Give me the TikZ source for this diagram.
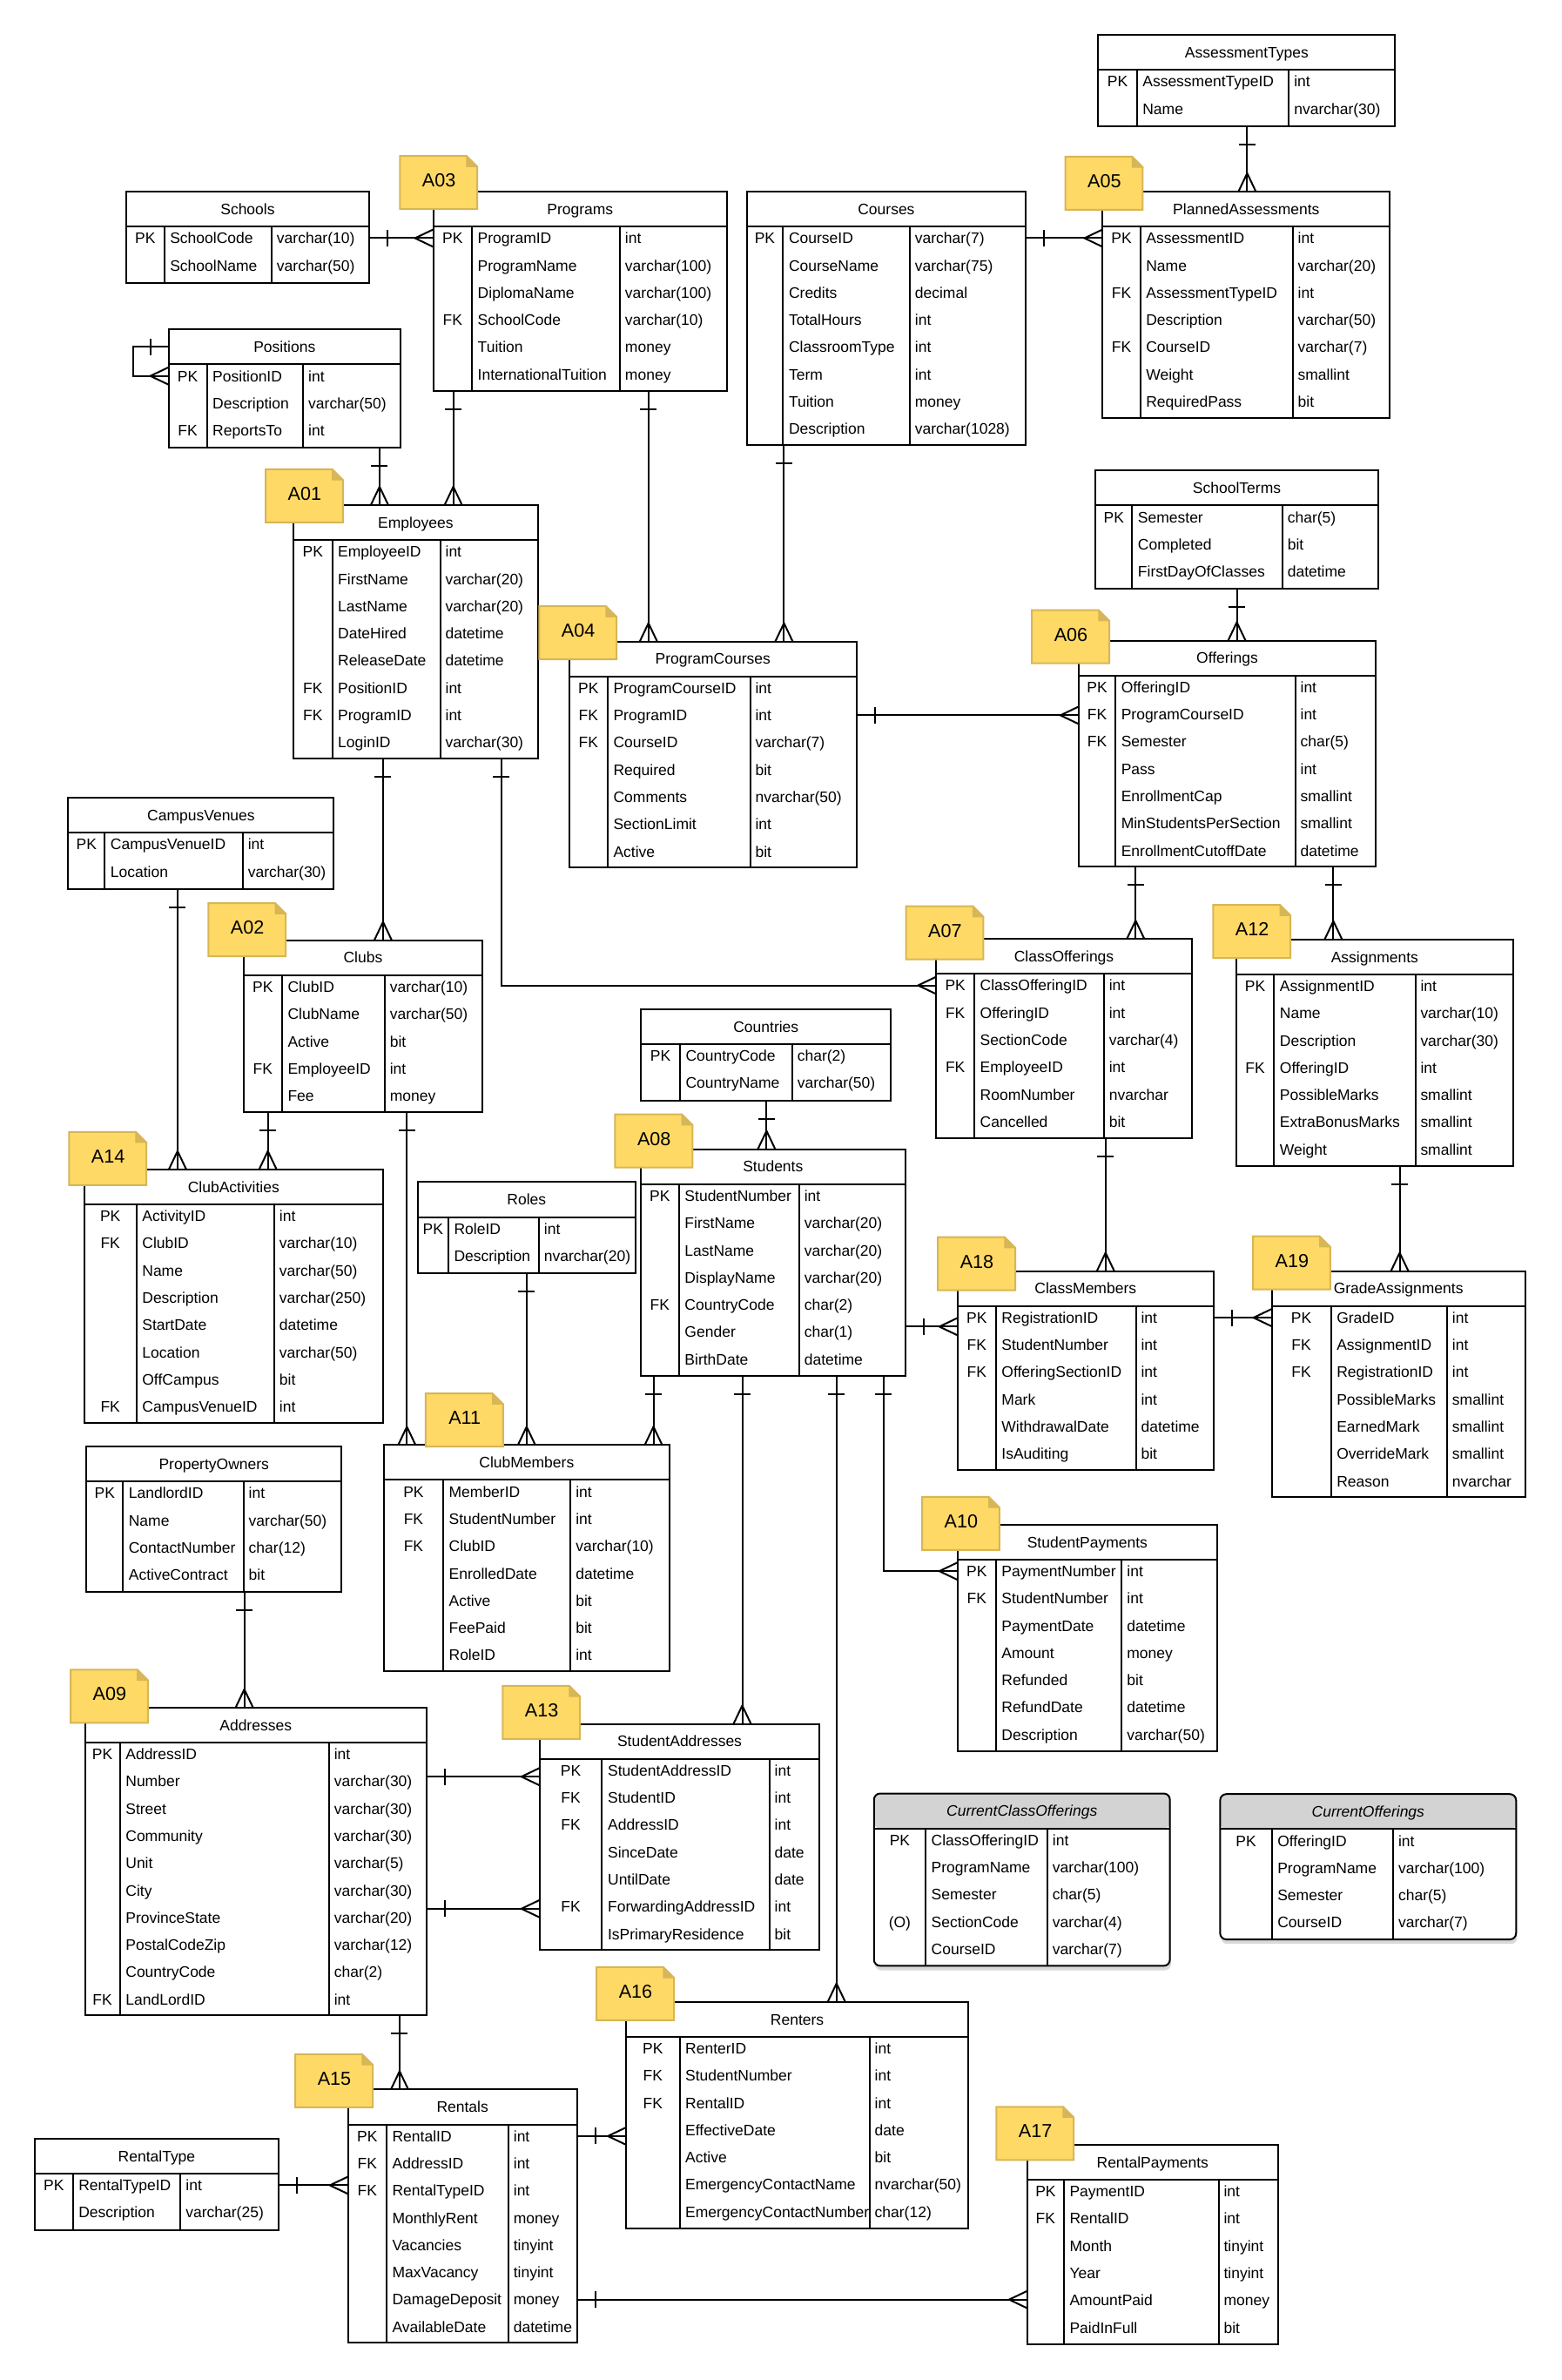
\documentclass[tikz,border=0pt]{standalone}
\usepackage{fontspec}
\setmainfont{Liberation Sans}
\usetikzlibrary{arrows.meta, fit, shadows}

\newcommand{\tablefont}{\fontsize{8.75}{10.5}\selectfont}
\newcommand{\viewopt}{(O)}

\definecolor{notefill}{HTML}{FFD966}
\definecolor{noteline}{HTML}{D6B656}
\definecolor{viewgray}{HTML}{D3D3D3}

% crow's foot ends
\pgfdeclarearrow{
  name = Crow,
  parameters = {\the\pgfarrowlength,\the\pgfarrowwidth},
  setup code = {
    \pgfarrowssettipend{0pt}
    \pgfarrowssetlineend{0pt}
    \pgfarrowssetbackend{-\pgfarrowlength}
    \pgfarrowssetvisualbackend{-\pgfarrowlength}
    \pgfarrowshullpoint{0pt}{0.5\pgfarrowwidth}
    \pgfarrowshullpoint{0pt}{-0.5\pgfarrowwidth}
    \pgfarrowshullpoint{-\pgfarrowlength}{0pt}
    \pgfarrowssavethe\pgfarrowlength
    \pgfarrowssavethe\pgfarrowwidth
  },
  drawing code = {
    \pgfsetdash{}{0pt}
    \pgfpathmoveto{\pgfqpoint{0pt}{0.5\pgfarrowwidth}}
    \pgfpathlineto{\pgfqpoint{-\pgfarrowlength}{0pt}}
    \pgfpathlineto{\pgfqpoint{0pt}{-0.5\pgfarrowwidth}}
    \pgfusepathqstroke
  },
  defaults = {length = 10.5pt, width = 10pt}
}
\pgfdeclarearrow{
  name = OneBar,
  parameters = {\the\pgfarrowlength,\the\pgfarrowwidth},
  setup code = {
    \pgfarrowssettipend{0pt}
    \pgfarrowssetlineend{0pt}
    \pgfarrowssetbackend{-\pgfarrowlength}
    \pgfarrowssetvisualbackend{-\pgfarrowlength}
    \pgfarrowshullpoint{-\pgfarrowlength}{0.5\pgfarrowwidth}
    \pgfarrowshullpoint{-\pgfarrowlength}{-0.5\pgfarrowwidth}
    \pgfarrowssavethe\pgfarrowlength
    \pgfarrowssavethe\pgfarrowwidth
  },
  drawing code = {
    \pgfsetdash{}{0pt}
    \pgfpathmoveto{\pgfqpoint{-\pgfarrowlength}{0.5\pgfarrowwidth}}
    \pgfpathlineto{\pgfqpoint{-\pgfarrowlength}{-0.5\pgfarrowwidth}}
    \pgfusepathqstroke
  },
  defaults = {length = 10.5pt, width = 9.5pt}
}

\tikzstyle{tableline} = [line width=1pt]
\tikzstyle{plain frame} = [rectangle, fill=white, inner sep=0pt, outer sep=0pt]
\tikzstyle{view frame} = [rectangle, fill=white, inner sep=0pt, outer sep=0pt, rounded corners=3.5pt, drop shadow={shadow xshift=0.6pt, shadow yshift=-2.6pt, opacity=0.3}]
\tikzstyle{plain head} = []
\tikzstyle{view head} = [fill=viewgray, rounded corners=3.5pt]
\tikzstyle{plain outline} = [tableline]
\tikzstyle{view outline} = [tableline, rounded corners=3.5pt]
\tikzstyle{keytext} = [inner sep=0pt, font=\tablefont, text height=6.3pt, text depth=0pt]
\tikzstyle{fieldtext} = [keytext, anchor=west]
\tikzstyle{plain title} = [keytext]
\tikzstyle{view title} = [keytext, font=\tablefont\itshape]
\tikzstyle{notebody} = [fill=notefill, draw=noteline, line width=1pt]
\tikzstyle{notefold} = [fill=noteline, draw=noteline, line width=0.5pt]
\tikzstyle{notelabel} = [inner sep=0pt, font=\fontsize{10.8}{13}\selectfont, text height=7.7pt, text depth=0pt]
\tikzstyle{rel} = [line width=1pt, arrows={OneBar-Crow}]

% [look]{name}{left}{top}{right}{key line}{type line}{title}{key/field/type rows}
\newcommand{\ertable}[9][plain]{%
  \foreach \k/\f/\t [count=\i] in {#9} {\xdef\ercount{\i}}
  \pgfmathsetmacro\erbottom{#4+24.5+17.8*\ercount}
  \coordinate (#2-nw) at (#3,#4);
  \coordinate (#2-se) at (#5,\erbottom);
  \node[#1 frame, fit=(#2-nw)(#2-se)] (#2) {};
  \path[#1 head] (#3,#4+23) -- (#3,#4) -- (#5,#4) -- (#5,#4+23) -- cycle;
  \draw[#1 outline] (#2-nw) rectangle (#2-se);
  \draw[tableline] (#3,#4+23) -- (#5,#4+23) (#6,#4+23) -- (#6,\erbottom) (#7,#4+23) -- (#7,\erbottom);
  \node[#1 title] (#2-title) at ({(#3+#5)/2},#4+11.5) {#8};
  \foreach \k/\f/\t [count=\i] in {#9} {
    \node[keytext] (#2-k\i) at ({(#3+#6)/2},{#4+30.7+17.95*(\i-1)}) {\k};
    \node[fieldtext] (#2-f\i) at (#6+3.6,{#4+30.7+17.95*(\i-1)}) {\f};
    \node[fieldtext] (#2-t\i) at (#7+3.2,{#4+30.7+17.95*(\i-1)}) {\t};
  }
}

% {name}{left}{top}{label}
\newcommand{\notetag}[4]{%
  \filldraw[notebody] (#2,#3) -- ({#2+44},#3) -- ({#2+51},{#3+7}) -- ({#2+51},{#3+35}) -- (#2,{#3+35}) -- cycle;
  \filldraw[notefold] ({#2+44},#3) -- ({#2+44},{#3+7}) -- ({#2+51},{#3+7}) -- cycle;
  \node[notelabel] (#1) at ({#2+25.7},{#3+16}) {#4};
}

\begin{document}
\begin{tikzpicture}[x=0.8717pt, y=-0.8717pt]
    \useasboundingbox (0,0) rectangle (1029,1568);

    %tables
    \ertable{atypes}{723.7}{22.9}{919.3}{749.1}{849.3}{AssessmentTypes}{PK/AssessmentTypeID/int, /Name/nvarchar(30)}
    \ertable{passess}{726.6}{126.2}{915.8}{751.4}{851.8}{PlannedAssessments}{PK/AssessmentID/int, /Name/varchar(20), FK/AssessmentTypeID/int, /Description/varchar(50), FK/CourseID/varchar(7), /Weight/smallint, /RequiredPass/bit}
    \ertable{schools}{83.2}{126.2}{243.2}{108.2}{179}{Schools}{PK/SchoolCode/varchar(10), /SchoolName/varchar(50)}
    \ertable{programs}{285.5}{126.2}{479}{311}{408.5}{Programs}{PK/ProgramID/int, /ProgramName/varchar(100), /DiplomaName/varchar(100), FK/SchoolCode/varchar(10), /Tuition/money, /InternationalTuition/money}
    \ertable{positions}{111.1}{217}{263.9}{136.3}{199.8}{Positions}{PK/PositionID/int, /Description/varchar(50), FK/ReportsTo/int}
    \ertable{courses}{492}{126.2}{676}{516}{599.5}{Courses}{PK/CourseID/varchar(7), /CourseName/varchar(75), /Credits/decimal, /TotalHours/int, /ClassroomType/int, /Term/int, /Tuition/money, /Description/varchar(1028)}
    \ertable{employees}{193.5}{332.7}{354.3}{218.9}{290.1}{Employees}{PK/EmployeeID/int, /FirstName/varchar(20), /LastName/varchar(20), /DateHired/datetime, /ReleaseDate/datetime, FK/PositionID/int, FK/ProgramID/int, /LoginID/varchar(30)}
    \ertable{schoolterms}{722}{310}{908}{746}{845}{SchoolTerms}{PK/Semester/char(5), /Completed/bit, /FirstDayOfClasses/datetime}
    \ertable{offerings}{710.8}{422}{906.5}{735}{853.5}{Offerings}{PK/OfferingID/int, FK/ProgramCourseID/int, FK/Semester/char(5), /Pass/int, /EnrollmentCap/smallint, /MinStudentsPerSection/smallint, /EnrollmentCutoffDate/datetime}
    \ertable{progcourses}{375.1}{422.6}{564.4}{400.4}{494.3}{ProgramCourses}{PK/ProgramCourseID/int, FK/ProgramID/int, FK/CourseID/varchar(7), /Required/bit, /Comments/nvarchar(50), /SectionLimit/int, /Active/bit}
    \ertable{campusvenues}{45}{525.5}{220}{69}{160}{CampusVenues}{PK/CampusVenueID/int, /Location/varchar(30)}
    \ertable{clubs}{160.6}{619.4}{317.8}{185.8}{253.5}{Clubs}{PK/ClubID/varchar(10), /ClubName/varchar(50), /Active/bit, FK/EmployeeID/int, /Fee/money}
    \ertable{clubacts}{55.5}{770.4}{252.4}{89.9}{180.7}{ClubActivities}{PK/ActivityID/int, FK/ClubID/varchar(10), /Name/varchar(50), /Description/varchar(250), /StartDate/datetime, /Location/varchar(50), /OffCampus/bit, FK/CampusVenueID/int}
    \ertable{countries}{422.5}{664.8}{587}{448}{522}{Countries}{PK/CountryCode/char(2), /CountryName/varchar(50)}
    \ertable{classoff}{617}{618.5}{785.2}{642}{727.4}{ClassOfferings}{PK/ClassOfferingID/int, FK/OfferingID/int, /SectionCode/varchar(4), FK/EmployeeID/int, /RoomNumber/nvarchar, /Cancelled/bit}
    \ertable{assignments}{814.7}{618.9}{997}{839.5}{932.6}{Assignments}{PK/AssignmentID/int, /Name/varchar(10), /Description/varchar(30), FK/OfferingID/int, /PossibleMarks/smallint, /ExtraBonusMarks/smallint, /Weight/smallint}
    \ertable{roles}{275.3}{778.8}{418.7}{295.4}{355.1}{Roles}{PK/RoleID/int, /Description/nvarchar(20)}
    \ertable{students}{422.2}{757.1}{596.5}{447.4}{526.6}{Students}{PK/StudentNumber/int, /FirstName/varchar(20), /LastName/varchar(20), /DisplayName/varchar(20), FK/CountryCode/char(2), /Gender/char(1), /BirthDate/datetime}
    \ertable{classmembers}{631}{837.4}{799.6}{656.2}{748.5}{ClassMembers}{PK/RegistrationID/int, FK/StudentNumber/int, FK/OfferingSectionID/int, /Mark/int, /WithdrawalDate/datetime, /IsAuditing/bit}
    \ertable{gradeassign}{838}{837.4}{1005}{877}{953.5}{GradeAssignments}{PK/GradeID/int, FK/AssignmentID/int, FK/RegistrationID/int, /PossibleMarks/smallint, /EarnedMark/smallint, /OverrideMark/smallint, /Reason/nvarchar}
    \ertable{propowners}{57}{953}{225}{81}{160.5}{PropertyOwners}{PK/LandlordID/int, /Name/varchar(50), /ContactNumber/char(12), /ActiveContract/bit}
    \ertable{clubmembers}{253}{952}{441}{292}{376}{ClubMembers}{PK/MemberID/int, FK/StudentNumber/int, FK/ClubID/varchar(10), /EnrolledDate/datetime, /Active/bit, /FeePaid/bit, /RoleID/int}
    \ertable{studpayments}{631}{1004.4}{802}{656.2}{739.2}{StudentPayments}{PK/PaymentNumber/int, FK/StudentNumber/int, /PaymentDate/datetime, /Amount/money, /Refunded/bit, /RefundDate/datetime, /Description/varchar(50)}
    \ertable{addresses}{56}{1125}{281}{79}{216.8}{Addresses}{PK/AddressID/int, /Number/varchar(30), /Street/varchar(30), /Community/varchar(30), /Unit/varchar(5), /City/varchar(30), /ProvinceState/varchar(20), /PostalCodeZip/varchar(12), /CountryCode/char(2), FK/LandLordID/int}
    \ertable{studaddresses}{355.6}{1135.7}{540}{396.7}{507}{StudentAddresses}{PK/StudentAddressID/int, FK/StudentID/int, FK/AddressID/int, /SinceDate/date, /UntilDate/date, FK/ForwardingAddressID/int, /IsPrimaryResidence/bit}
    \ertable[view]{curclassoff}{575.9}{1181.6}{770.9}{609.9}{690.2}{CurrentClassOfferings}{PK/ClassOfferingID/int, /ProgramName/varchar(100), /Semester/char(5), \viewopt/SectionCode/varchar(4), /CourseID/varchar(7)}
    \ertable[view]{curoff}{804}{1182}{999}{838}{918}{CurrentOfferings}{PK/OfferingID/int, /ProgramName/varchar(100), /Semester/char(5), /CourseID/varchar(7)}
    \ertable{renters}{412.6}{1318.8}{638}{447.8}{573}{Renters}{PK/RenterID/int, FK/StudentNumber/int, FK/RentalID/int, /EffectiveDate/date, /Active/bit, /EmergencyContactName/nvarchar(50), /EmergencyContactNumber/char(12)}
    \ertable{rentals}{229.4}{1376.6}{380.1}{254.7}{335}{Rentals}{PK/RentalID/int, FK/AddressID/int, FK/RentalTypeID/int, /MonthlyRent/money, /Vacancies/tinyint, /MaxVacancy/tinyint, /DamageDeposit/money, /AvailableDate/datetime}
    \ertable{rentaltype}{23}{1409}{183.5}{48}{119}{RentalType}{PK/RentalTypeID/int, /Description/varchar(25)}
    \ertable{rentalpay}{677}{1413}{842}{701}{803}{RentalPayments}{PK/PaymentID/int, FK/RentalID/int, /Month/tinyint, /Year/tinyint, /AmountPaid/money, /PaidInFull/bit}

    %arrows
    \draw[rel] (schools.east |- schools-k1) -- (programs.west |- schools-k1);
    \draw[rel] (positions.west |- positions-title) -- ++(-23.5,0) |- (positions.west |- positions-k1);
    \draw[rel] (positions.south -| 250.1,0) -- (employees.north -| 250.1,0);
    \draw[rel] (programs.south -| 298.7,0) -- (employees.north -| 298.7,0);
    \draw[rel] (programs.south -| 427.3,0) -- (progcourses.north -| 427.3,0);
    \draw[rel] (courses.south -| 516.6,0) -- (progcourses.north -| 516.6,0);
    \draw[rel] (courses.east |- passess-k1) -- (passess.west |- passess-k1);
    \draw[rel] (atypes.south -| 821.8,0) -- (passess.north -| 821.8,0);
    \draw[rel] (progcourses.east |- progcourses-k2) -- (offerings.west |- progcourses-k2);
    \draw[rel] (schoolterms.south -| 815,0) -- (offerings.north -| 815,0);
    \draw[rel] (employees.south -| 252.4,0) -- (clubs.north -| 252.4,0);
    \draw[rel] (employees.south -| 330.4,0) |- (classoff.west |- classoff-k1);
    \draw[rel] (offerings.south -| 748.3,0) -- (classoff.north -| 748.3,0);
    \draw[rel] (offerings.south -| 878.6,0) -- (assignments.north -| 878.6,0);
    \draw[rel] (campusvenues.south -| 117,0) -- (clubacts.north -| 117,0);
    \draw[rel] (clubs.south -| 176.5,0) -- (clubacts.north -| 176.5,0);
    \draw[rel] (clubs.south -| 268.1,0) -- (clubmembers.north -| 268.1,0);
    \draw[rel] (countries.south -| 505.1,0) -- (students.north -| 505.1,0);
    \draw[rel] (roles.south -| 347,0) -- (clubmembers.north -| 347,0);
    \draw[rel] (students.south -| 430.6,0) -- (clubmembers.north -| 430.6,0);
    \draw[rel] (students.south -| 489.1,0) -- (studaddresses.north -| 489.1,0);
    \draw[rel] (students.south -| 551.2,0) -- (renters.north -| 551.2,0);
    \draw[rel] (students.south -| 582.2,0) |- (studpayments.west |- studpayments-k1);
    \draw[rel] (students.east |- 0,874) -- (classmembers.west |- 0,874);
    \draw[rel] (classoff.south -| 728.5,0) -- (classmembers.north -| 728.5,0);
    \draw[rel] (classmembers.east |- gradeassign-k1) -- (gradeassign.west |- gradeassign-k1);
    \draw[rel] (assignments.south -| 922.3,0) -- (gradeassign.north -| 922.3,0);
    \draw[rel] (propowners.south -| 161,0) -- (addresses.north -| 161,0);
    \draw[rel] (addresses.east |- 0,1170.5) -- (studaddresses.west |- 0,1170.5);
    \draw[rel] (addresses.east |- 0,1257.5) -- (studaddresses.west |- 0,1257.5);
    \draw[rel] (addresses.south -| 263.3,0) -- (rentals.north -| 263.3,0);
    \draw[rel] (rentaltype.east |- rentaltype-k1) -- (rentals.west |- rentaltype-k1);
    \draw[rel] (rentals.east |- rentals-k1) -- (renters.west |- rentals-k1);
    \draw[rel] (rentals.east |- rentals-k7) -- (rentalpay.west |- rentals-k7);

    %notes
    \notetag{a01}{175}{309.2}{A01}
    \notetag{a02}{137.3}{595}{A02}
    \notetag{a03}{263.5}{102.8}{A03}
    \notetag{a04}{355.3}{399.4}{A04}
    \notetag{a05}{702}{103.2}{A05}
    \notetag{a06}{680}{402}{A06}
    \notetag{a07}{597}{597}{A07}
    \notetag{a08}{405.3}{734.2}{A08}
    \notetag{a09}{46.5}{1100}{A09}
    \notetag{a10}{607.6}{986.2}{A10}
    \notetag{a11}{280.5}{918}{A11}
    \notetag{a12}{799.4}{596.2}{A12}
    \notetag{a13}{331.2}{1110.7}{A13}
    \notetag{a14}{45.5}{745.7}{A14}
    \notetag{a15}{194.6}{1353.3}{A15}
    \notetag{a16}{393.1}{1296}{A16}
    \notetag{a17}{656.5}{1388}{A17}
    \notetag{a18}{618}{815}{A18}
    \notetag{a19}{825.6}{814.5}{A19}
\end{tikzpicture}
\end{document}
